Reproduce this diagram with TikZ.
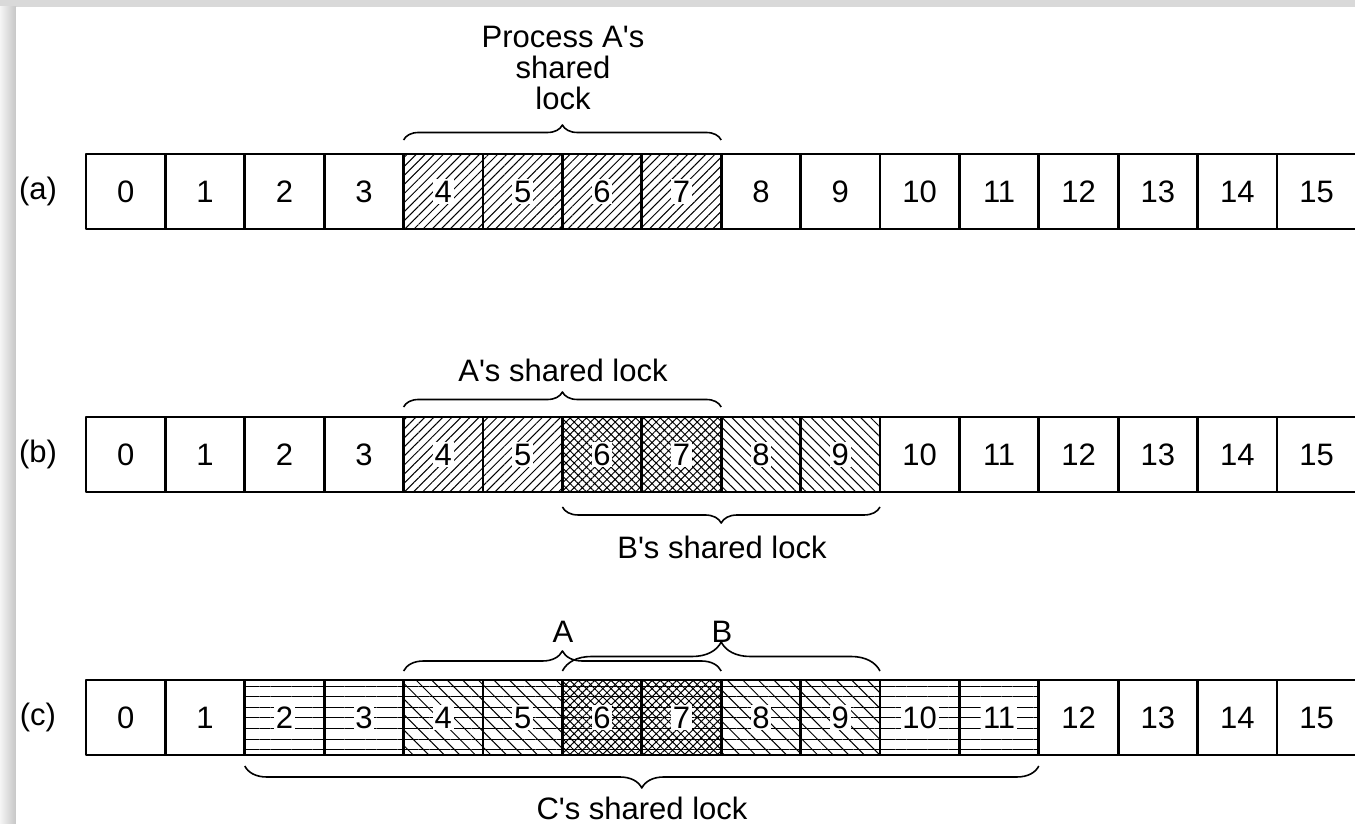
\documentclass[tikz,border=0pt]{standalone}
\usepackage{fontspec}
\setmainfont{Liberation Sans}[Ligatures=TeXOff]
\usetikzlibrary{patterns.meta,decorations.pathreplacing}

\tikzset{
  cell/.style={draw, line width=1.4pt, minimum width=39.7pt, minimum height=37.5pt, inner sep=0pt, outer sep=0pt},
  lockA/.style={pattern={Lines[angle=45,distance=3.2pt,line width=0.5pt]}},
  lockB/.style={pattern={Lines[angle=-45,distance=3.5pt,line width=0.5pt]}},
  lockAB/.style={pattern={Hatch[angle=45,distance=2.9pt,line width=0.5pt]}},
  lockC/.style={pattern={Lines[angle=0,distance=5.3pt,line width=0.5pt]}},
  lockCw/.style={lockC, postaction={pattern={Lines[angle=-45,distance=5.5pt,line width=0.5pt]}}},
  lockCx/.style={lockC, postaction={lockAB}},
  brc/.style 2 args={decorate, decoration={brace, amplitude=#1, raise=#2}, line width=0.8pt},
}
\newcommand{\dg}[1]{{\setlength{\fboxsep}{0.8pt}\colorbox{white}{#1}}}

\begin{document}
\begin{tikzpicture}[x=0.5pt,y=0.5pt,line join=round,font=\fontsize{15.5}{15.5}\selectfont]
	\def\w{79.4};
	\def\xo{86};
	\def\ya{632.5};
	\def\yb{369.5};
	\def\yc{106.5};
	\useasboundingbox (0,0) rectangle (1355,824);
	\clip (0,0) rectangle (1355,824);
	% frame
	\fill[gray!30] (0,0) rectangle (1355,824);
	\shade[left color=gray!8, right color=gray!45] (0,0) rectangle (16,817);
	\fill[white] (16,0) rectangle (1355,817);
	% row (a)
	\node (la) at (38,\ya) {(a)};
	\foreach \i in {0,1,2,3,8,9,10,11,12,13,14,15}
		\node[cell] (a\i) at ({\xo+\w*\i+\w/2},\ya) {\dg{\i}};
	\foreach \i in {4,...,7}
		\node[cell,lockA] (a\i) at ({\xo+\w*\i+\w/2},\ya) {\dg{\i}};
	\draw[brc={7.5pt}{7pt}] (a4.north west) -- (a7.north east);
	\node[align=center] (txa) at (563,756) {Process A's\\shared\\lock};
	% row (b)
	\node (lb) at (38,\yb) {(b)};
	\foreach \i in {0,1,2,3,10,11,12,13,14,15}
		\node[cell] (b\i) at ({\xo+\w*\i+\w/2},\yb) {\dg{\i}};
	\foreach \i in {4,5}
		\node[cell,lockA] (b\i) at ({\xo+\w*\i+\w/2},\yb) {\dg{\i}};
	\foreach \i in {6,7}
		\node[cell,lockAB] (b\i) at ({\xo+\w*\i+\w/2},\yb) {\dg{\i}};
	\foreach \i in {8,9}
		\node[cell,lockB] (b\i) at ({\xo+\w*\i+\w/2},\yb) {\dg{\i}};
	\draw[brc={7.5pt}{5pt}] (b4.north west) -- (b7.north east);
	\draw[brc={8pt}{7.5pt}] (b9.south east) -- (b6.south west);
	\node (txba) at (563,454) {A's shared lock};
	\node (txbb) at (722,277) {B's shared lock};
	% row (c)
	\node (lc) at (38,\yc) {(c)};
	\foreach \i in {0,1,12,13,14,15}
		\node[cell] (c\i) at ({\xo+\w*\i+\w/2},\yc) {\dg{\i}};
	\foreach \i in {2,3,10,11}
		\node[cell,lockC] (c\i) at ({\xo+\w*\i+\w/2},\yc) {\dg{\i}};
	\foreach \i in {4,5,8,9}
		\node[cell,lockCw] (c\i) at ({\xo+\w*\i+\w/2},\yc) {\dg{\i}};
	\foreach \i in {6,7}
		\node[cell,lockCx] (c\i) at ({\xo+\w*\i+\w/2},\yc) {\dg{\i}};
	\draw[brc={10pt}{4.5pt}] (c4.north west) -- (c7.north east);
	\draw[brc={14.5pt}{4.5pt}] (c6.north west) -- (c9.north east);
	\draw[brc={11pt}{5.5pt}] (c11.south east) -- (c2.south west);
	\node (txca) at (563,192) {A};
	\node (txcb) at (722,192) {B};
	\node (txcc) at (642,16) {C's shared lock};
\end{tikzpicture}
\end{document}
